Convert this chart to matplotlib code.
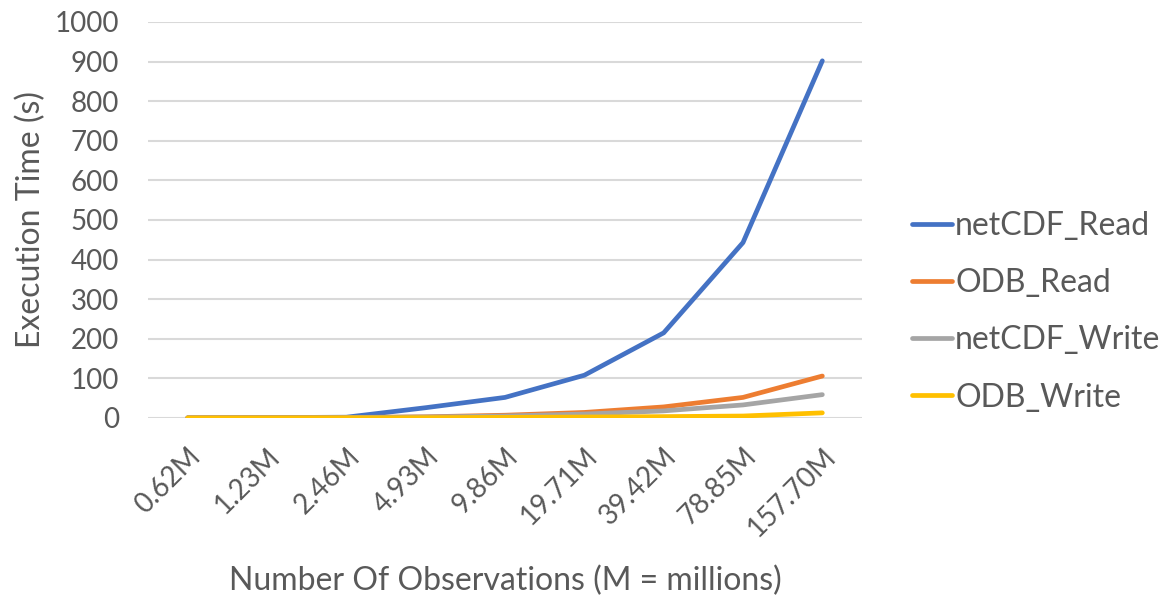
import matplotlib.pyplot as plt

# observation counts and timings (seconds)
sizes = ['0.62M', '1.23M', '2.46M', '4.93M', '9.86M', '19.71M', '39.42M', '78.85M', '157.70M']
netcdf_read = [0.5, 1, 2, 26, 52, 108, 215, 443, 902]
odb_read = [0.3, 0.6, 1.2, 3, 7, 14, 28, 52, 106]
netcdf_write = [0.2, 0.5, 1, 2.5, 5, 10, 18, 33, 59]
odb_write = [0.1, 0.2, 0.4, 0.8, 1.5, 2.5, 3.5, 5, 13]

series = [('netCDF_Read', netcdf_read, '#4472c4'),
          ('ODB_Read', odb_read, '#ed7d31'),
          ('netCDF_Write', netcdf_write, '#a5a5a5'),
          ('ODB_Write', odb_write, '#ffc000')]

plt.rcParams['font.family'] = ['Lato', 'DejaVu Sans']
txt = '#595959'

fig = plt.figure(figsize=(11.7, 5.96), dpi=100)
ax = fig.add_axes([148 / 1170, 1 - 418 / 596, (862 - 148) / 1170, (418 - 22) / 596])

x = list(range(len(sizes)))
for name, vals, col in series:
    ax.plot(x, vals, color=col, lw=3.4, label=name, solid_capstyle='round', solid_joinstyle='round')

ax.set_xlim(-0.5, len(sizes) - 0.5)
ax.set_ylim(0, 1000)
ax.set_yticks(range(0, 1001, 100))
ax.set_xticks(x)
ax.set_xticklabels(sizes, rotation=45, ha='right', rotation_mode='anchor')
ax.yaxis.grid(True, color='#d9d9d9', lw=1.5)
ax.set_axisbelow(True)
for s in ax.spines.values():
    s.set_visible(False)
ax.tick_params(length=0, labelsize=20, colors=txt)
ax.tick_params(axis='y', pad=21)
ax.tick_params(axis='x', pad=18)
ax.set_xlabel('Number Of Observations (M = millions)', fontsize=23, color=txt, labelpad=18)
ax.set_ylabel('Execution Time (s)', fontsize=23, color=txt, labelpad=6)

leg = ax.legend(loc='center left', bbox_to_anchor=(1.07, 0.268), frameon=False, fontsize=23,
                borderpad=0, borderaxespad=0, handlelength=1.25, handletextpad=0.1,
                labelspacing=0.85, labelcolor=txt)

fig.savefig('out.png', dpi=100)
